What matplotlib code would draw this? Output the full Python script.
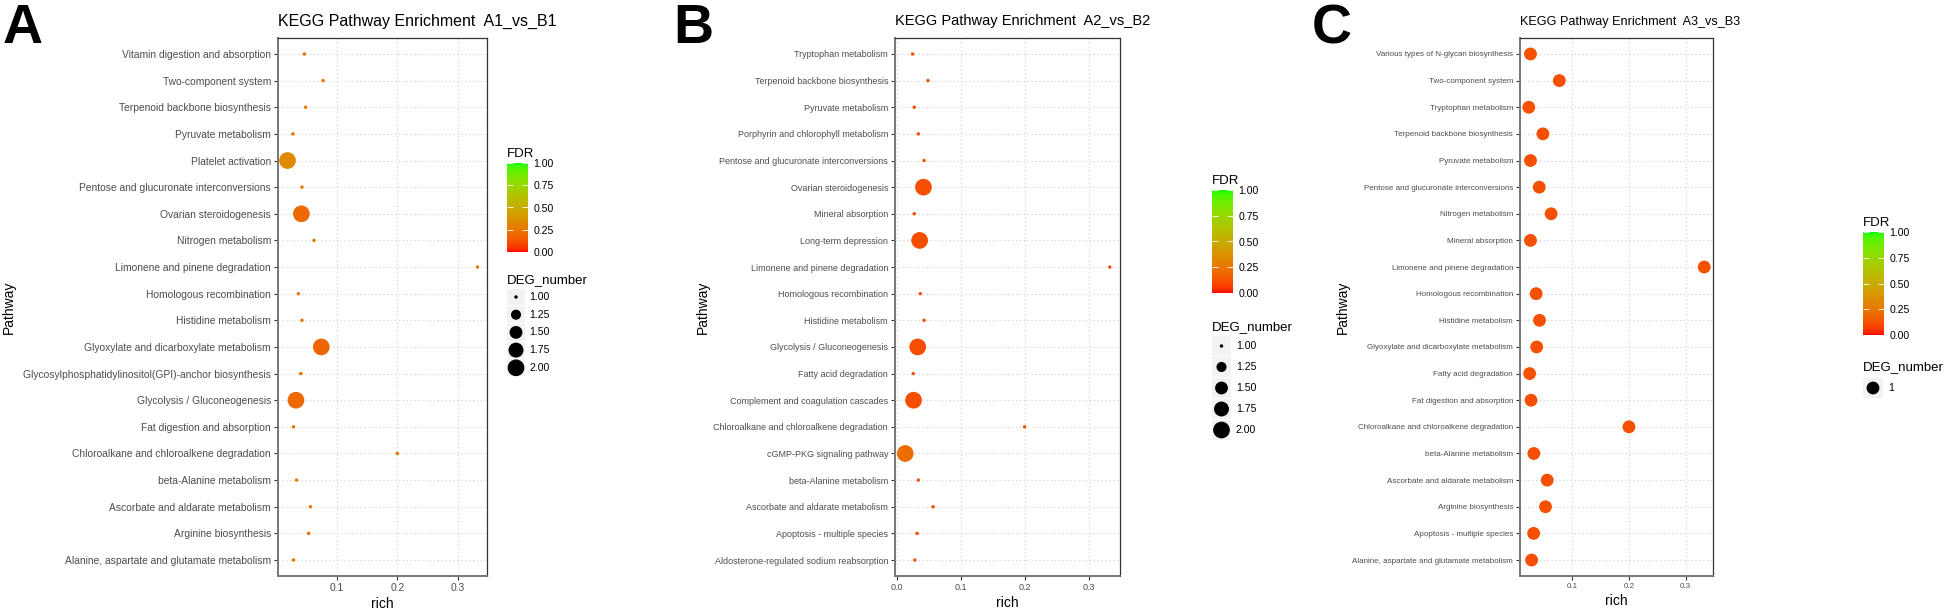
"""KEGG pathway enrichment bubble plots, three comparisons side by side"""
import numpy as np
import matplotlib
matplotlib.use('Agg')
import matplotlib.pyplot as plt
from matplotlib import font_manager
from matplotlib.colors import ListedColormap
from matplotlib.patches import Rectangle
from matplotlib.ticker import MultipleLocator, FormatStrFormatter

plt.rcParams['font.family'] = ['Liberation Sans', 'DejaVu Sans']

# the third panel of the original is horizontally squeezed; use a narrow face if present
installed = {f.name for f in font_manager.fontManager.ttflist}
HAS_NARROW = 'Liberation Sans Narrow' in installed

W, H = 1946, 609

# ---- data -------------------------------------------------------------
A_paths = ["Vitamin digestion and absorption", "Two-component system",
           "Terpenoid backbone biosynthesis", "Pyruvate metabolism",
           "Platelet activation", "Pentose and glucuronate interconversions",
           "Ovarian steroidogenesis", "Nitrogen metabolism",
           "Limonene and pinene degradation", "Homologous recombination",
           "Histidine metabolism", "Glyoxylate and dicarboxylate metabolism",
           "Glycosylphosphatidylinositol(GPI)-anchor biosynthesis",
           "Glycolysis / Gluconeogenesis", "Fat digestion and absorption",
           "Chloroalkane and chloroalkene degradation", "beta-Alanine metabolism",
           "Ascorbate and aldarate metabolism", "Arginine biosynthesis",
           "Alanine, aspartate and glutamate metabolism"]
A_rich = [0.046, 0.077, 0.048, 0.027, 0.018, 0.042, 0.041, 0.062, 0.333, 0.036,
          0.042, 0.074, 0.040, 0.032, 0.028, 0.200, 0.033, 0.056, 0.053, 0.028]
A_deg = [1, 1, 1, 1, 2, 1, 2, 1, 1, 1, 1, 2, 1, 2, 1, 1, 1, 1, 1, 1]
A_fdr = [0.24, 0.24, 0.24, 0.24, 0.33, 0.24, 0.20, 0.24, 0.24, 0.24,
         0.24, 0.19, 0.24, 0.20, 0.24, 0.24, 0.24, 0.24, 0.24, 0.24]

B_paths = ["Tryptophan metabolism", "Terpenoid backbone biosynthesis",
           "Pyruvate metabolism", "Porphyrin and chlorophyll metabolism",
           "Pentose and glucuronate interconversions", "Ovarian steroidogenesis",
           "Mineral absorption", "Long-term depression",
           "Limonene and pinene degradation", "Homologous recombination",
           "Histidine metabolism", "Glycolysis / Gluconeogenesis",
           "Fatty acid degradation", "Complement and coagulation cascades",
           "Chloroalkane and chloroalkene degradation", "cGMP-PKG signaling pathway",
           "beta-Alanine metabolism", "Ascorbate and aldarate metabolism",
           "Apoptosis - multiple species", "Aldosterone-regulated sodium reabsorption"]
B_rich = [0.025, 0.049, 0.0275, 0.034, 0.043, 0.042, 0.0275, 0.036, 0.333, 0.037,
          0.043, 0.033, 0.026, 0.0265, 0.200, 0.0135, 0.034, 0.057, 0.032, 0.0285]
B_deg = [1, 1, 1, 1, 1, 2, 1, 2, 1, 1, 1, 2, 1, 2, 1, 2, 1, 1, 1, 1]
B_fdr = [0.12, 0.12, 0.12, 0.12, 0.12, 0.11, 0.12, 0.11, 0.12, 0.12,
         0.12, 0.11, 0.12, 0.11, 0.12, 0.22, 0.12, 0.12, 0.12, 0.12]

C_paths = ["Various types of N-glycan biosynthesis", "Two-component system",
           "Tryptophan metabolism", "Terpenoid backbone biosynthesis",
           "Pyruvate metabolism", "Pentose and glucuronate interconversions",
           "Nitrogen metabolism", "Mineral absorption",
           "Limonene and pinene degradation", "Homologous recombination",
           "Histidine metabolism", "Glyoxylate and dicarboxylate metabolism",
           "Fatty acid degradation", "Fat digestion and absorption",
           "Chloroalkane and chloroalkene degradation", "beta-Alanine metabolism",
           "Ascorbate and aldarate metabolism", "Arginine biosynthesis",
           "Apoptosis - multiple species", "Alanine, aspartate and glutamate metabolism"]
C_rich = [0.026, 0.077, 0.023, 0.048, 0.026, 0.0415, 0.0625, 0.026, 0.333, 0.036,
          0.042, 0.037, 0.0245, 0.027, 0.200, 0.032, 0.0556, 0.0526, 0.0316, 0.028]
C_deg = [1] * 20
C_fdr = [0.12] * 20

fdr_ticks = [0.0, 0.25, 0.5, 0.75, 1.0]


# ---- ggplot style red -> green gradient (interpolated in Lab) ----------
def rgb2lab(rgb):
    c = np.asarray(rgb, float)
    c = np.where(c > 0.04045, ((c + 0.055) / 1.055) ** 2.4, c / 12.92)
    M = np.array([[0.4124, 0.3576, 0.1805], [0.2126, 0.7152, 0.0722], [0.0193, 0.1192, 0.9505]])
    xyz = M @ c / np.array([0.95047, 1.0, 1.08883])
    f = np.where(xyz > 0.008856, np.cbrt(xyz), 7.787 * xyz + 16 / 116)
    return np.array([116 * f[1] - 16, 500 * (f[0] - f[1]), 200 * (f[1] - f[2])])


def lab2rgb(lab):
    L, a, b = lab
    fy = (L + 16) / 116
    f = np.array([fy + a / 500, fy, fy - b / 200])
    xyz = np.where(f ** 3 > 0.008856, f ** 3, (f - 16 / 116) / 7.787) * np.array([0.95047, 1.0, 1.08883])
    Minv = np.array([[3.2406, -1.5372, -0.4986], [-0.9689, 1.8758, 0.0415], [0.0557, -0.2040, 1.0570]])
    c = Minv @ xyz
    c = np.where(c > 0.0031308, 1.055 * np.abs(c) ** (1 / 2.4) - 0.055, 12.92 * c)
    return np.clip(c, 0, 1)


lab_lo, lab_hi = rgb2lab([1, 0, 0]), rgb2lab([0, 1, 0])
cmap = ListedColormap([lab2rgb(lab_lo + t * (lab_hi - lab_lo)) for t in np.linspace(0, 1, 256)])


def deg_size(vals, dmin, dmax):
    """ggplot scale_size (area) -> matplotlib s in pt^2"""
    vals = np.asarray(vals, float)
    t = np.full_like(vals, 0.5) if dmax == dmin else (vals - dmin) / (dmax - dmin)
    gsize = 1 + 5 * np.sqrt(t)
    diam_px = 2.65 * gsize + 0.8
    return (diam_px * 0.72) ** 2


def frac(left, top, right, bottom):
    return [left / W, 1 - bottom / H, (right - left) / W, (bottom - top) / H]


fig = plt.figure(figsize=(W / 100, H / 100), dpi=100)
fig.patch.set_facecolor('white')

regular = ['Liberation Sans', 'DejaVu Sans']
if HAS_NARROW:
    c_font, c_fs = ['Liberation Sans Narrow', 'Liberation Sans', 'DejaVu Sans'], 0.95
else:
    c_font, c_fs = regular, 0.78

panels = [
    dict(letter='A', name='A1_vs_B1', paths=A_paths, rich=A_rich, deg=A_deg, fdr=A_fdr,
         box=(278, 38, 487, 576), fs=1.0, tfs=0.96, font=regular, letter_x=3, ylab_x=9,
         cbar=(507, 163, 528, 252), deg_title=280, key0=297, key_step=17.7, key_w=18),
    dict(letter='B', name='A2_vs_B2', paths=B_paths, rich=B_rich, deg=B_deg, fdr=B_fdr,
         box=(895, 38, 1120, 576), fs=0.88, tfs=0.88, font=regular, letter_x=673, ylab_x=703,
         cbar=(1212, 190, 1233, 293), deg_title=327, key0=346, key_step=21, key_w=19),
    dict(letter='C', name='A3_vs_B3', paths=C_paths, rich=C_rich, deg=C_deg, fdr=C_fdr,
         box=(1520, 38, 1713, 576), fs=c_fs, tfs=c_fs * 0.97, font=c_font, letter_x=1312,
         ylab_x=1343, cbar=(1863, 232, 1884, 335), deg_title=367, key0=388, key_step=21,
         key_w=20),
]

for p in panels:
    l, t, r, b = p['box']
    ax = fig.add_axes(frac(l, t, r, b))
    n = len(p['paths'])
    y = np.arange(n)
    rich = np.asarray(p['rich'])
    dmin, dmax = min(p['deg']), max(p['deg'])

    ax.scatter(rich, y, s=deg_size(p['deg'], dmin, dmax), c=p['fdr'], cmap=cmap,
               vmin=0, vmax=1, edgecolors='none', zorder=3)

    span = rich.max() - rich.min()
    ax.set_xlim(rich.min() - 0.05 * span, rich.max() + 0.05 * span)
    ax.set_ylim(n - 0.4, -0.6)
    ax.set_yticks(y)
    ax.set_yticklabels(p['paths'], family=p['font'])
    ax.xaxis.set_major_locator(MultipleLocator(0.1))
    ax.xaxis.set_major_formatter(FormatStrFormatter('%.1f'))
    ax.tick_params(axis='both', labelsize=7.4 * p['fs'], labelcolor='#4D4D4D',
                   length=3, width=0.8, color='#333333', pad=2)
    for lab in ax.get_xticklabels():
        lab.set_family(p['font'])
    ax.grid(True, linestyle=(0, (1, 2.5)), color='#CFCFCF', linewidth=0.8, zorder=0)
    ax.set_axisbelow(True)
    for side in ['top', 'right']:
        ax.spines[side].set_color('#333333')
        ax.spines[side].set_linewidth(0.9)
    for side in ['left', 'bottom']:
        ax.spines[side].set_color('#777777')
        ax.spines[side].set_linewidth(1.4)

    ax.set_title('KEGG Pathway Enrichment  ' + p['name'], loc='left',
                 fontsize=12 * p['tfs'], pad=9, family=p['font'])
    ax.set_xlabel('rich', fontsize=10, labelpad=3, family=p['font'])
    fig.text(p['ylab_x'] / W, 1 - ((t + b) / 2) / H, 'Pathway', rotation=90,
             ha='center', va='center', fontsize=10, family=p['font'])
    fig.text(p['letter_x'] / W, 1 - 43 / H, p['letter'], fontsize=40,
             fontweight='bold', ha='left', va='baseline')

    # FDR colour bar
    cl, ct, cr, cb = p['cbar']
    cax = fig.add_axes(frac(cl, ct, cr, cb))
    sm = plt.cm.ScalarMappable(cmap=cmap, norm=plt.Normalize(0, 1))
    cbar = fig.colorbar(sm, cax=cax, ticks=fdr_ticks)
    cbar.outline.set_visible(False)
    cbar.ax.set_yticklabels(['%.2f' % v for v in fdr_ticks], family=p['font'])
    cbar.ax.tick_params(direction='in', length=4, width=0.6, color='white',
                        labelsize=7.6, pad=4, right=True, left=True)
    fig.text(cl / W, 1 - (ct - 9) / H, 'FDR', fontsize=9.5, ha='left', va='center',
             family=p['font'])

    # DEG_number size keys
    fig.text(cl / W, 1 - p['deg_title'] / H, 'DEG_number', fontsize=9.5,
             ha='left', va='center', family=p['font'])
    if dmax > dmin:
        levels = np.linspace(dmin, dmax, 5)
        labels = ['%.2f' % v for v in levels]
    else:
        levels = np.array([float(dmin)])
        labels = ['%d' % dmin]
    kw, ks = p['key_w'], p['key_step']
    k_top = p['key0'] - ks / 2
    kax = fig.add_axes(frac(cl, k_top, cl + kw, k_top + ks * len(levels)))
    kax.set_xlim(0, 1)
    kax.set_ylim(len(levels), 0)
    kax.axis('off')
    for i, (v, lab) in enumerate(zip(levels, labels)):
        kax.add_patch(Rectangle((0, i + 0.03), 1, 0.94, facecolor='#F2F2F2',
                                edgecolor='none'))
        kax.text(1.25, i + 0.5, lab, fontsize=7.6, va='center', ha='left',
                 family=p['font'])
    kax.scatter(np.full(len(levels), 0.5), np.arange(len(levels)) + 0.5,
                s=deg_size(levels, dmin, dmax), color='black', edgecolors='none',
                clip_on=False)

fig.savefig('out.png', dpi=100, facecolor='white')
plt.close(fig)
